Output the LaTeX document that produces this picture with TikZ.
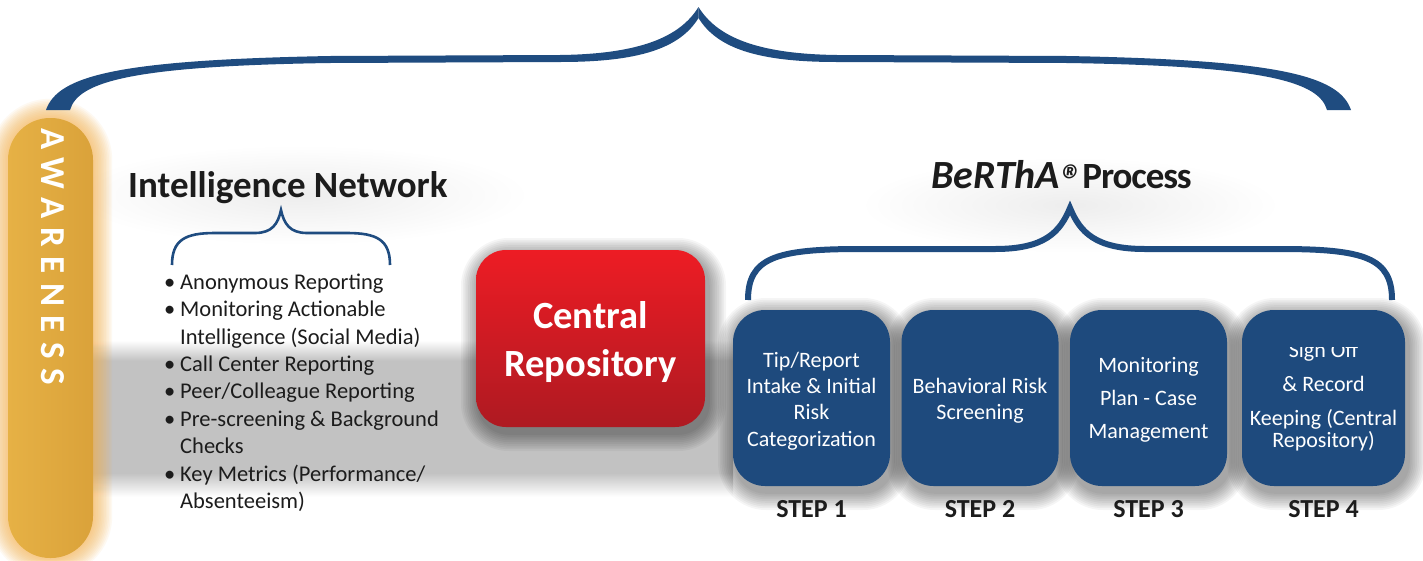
\documentclass[tikz,border=0pt]{standalone}
\usepackage{fontspec}
\setmainfont{Carlito}
\usetikzlibrary{positioning}

\definecolor{braceblue}{HTML}{1F4C80}
\definecolor{stepblue}{HTML}{1E4A7D}
\definecolor{repored}{HTML}{ED1C24}
\definecolor{repomid}{HTML}{DC1B24}
\definecolor{repodark}{HTML}{AE1A22}
\definecolor{pillgold}{HTML}{E6B145}
\definecolor{pilldark}{HTML}{DAA23A}
\definecolor{glow}{HTML}{F7AE45}
\definecolor{inkgray}{HTML}{1C1C1C}

% tikz maps the path box onto 25bp..75bp of a shading
\pgfdeclareverticalshading{greyband}{100bp}{color(0bp)=(white); color(26bp)=(white); color(33bp)=(black!24); color(66bp)=(black!24); color(72bp)=(white); color(100bp)=(white)}

% bullet and hanging indent for the list
\newcommand{\bul}{\makebox[16pt][l]{•}}
\newcommand{\bulpad}{\hspace*{16pt}}

% soft shadow behind a rounded box: x1 y1 x2 y2
\newcommand{\softshadow}[4]{%
  \foreach \s in {1,...,10}{%
    \pgfmathsetmacro\rr{30+1.8*\s}%
    \fill[black, opacity=0.04, rounded corners=\rr pt]
      ({#1-1.8*\s+3},{#2-1.8*\s+6}) rectangle ({#3+1.8*\s+3},{#4+1.8*\s+6});
  }}

\begin{document}
\begin{tikzpicture}[x=1pt, y=-1pt]
\tikzstyle{every node}+=[inner sep=0pt]
\tikzstyle{stepbox}=[fill=stepblue, rounded corners=32pt, minimum width=157pt, minimum height=176pt]
\tikzstyle{steptext}=[text=white, align=center]
\tikzstyle{steplabel}=[font=\bfseries\fontsize{26}{26}\selectfont, text=inkgray]
\tikzstyle{headline}=[font=\bfseries\fontsize{37}{37}\selectfont, text=inkgray]
\tikzstyle{bracket}=[draw=braceblue, line join=miter]

\fill[white] (0,0) rectangle (1423,560);
\useasboundingbox (0,0) rectangle (1423,560);

% background haze and grey band
\shade[inner color=black!7, outer color=white] (300,195) ellipse [x radius=230pt, y radius=50pt];
\shade[inner color=black!7, outer color=white] (1070,205) ellipse [x radius=210pt, y radius=48pt];
\shade[shading=greyband] (93,330) rectangle (733,500);

% awareness pill
\foreach \s in {1,...,12}{
  \pgfmathsetmacro\rr{42+1.6*\s}
  \fill[glow, opacity=0.07, rounded corners=\rr pt] ({8-1.6*\s},{118-1.6*\s}) rectangle ({93+1.6*\s},{558+1.6*\s});
}
\node[left color=pillgold, right color=pilldark, rounded corners=42pt, minimum width=85pt, minimum height=440pt] (aware) at (50.5,338) {};
\node[rotate=-90, anchor=west, text=white, font=\bfseries\fontsize{35}{35}\selectfont\addfontfeatures{LetterSpace=27}] (awaretext) at (53,128) {AWARENESS};

% big bracket over everything
\foreach \m in {1,-1}
  \fill[braceblue, shift={(698.5,0)}, xscale=\m] (-652.5,110) .. controls (-640.5,75) and (-578.5,60) .. (-368.5,56) -- (-138.5,55) .. controls (-58.5,54) and (-18.5,37) .. (0,7) -- (0,18) .. controls (-18.5,48) and (-58.5,62) .. (-138.5,62) -- (-368.5,63) .. controls (-568.5,66) and (-620.5,82) .. (-628.5,110) -- cycle;

% intelligence network
\node[headline, anchor=base west] (intel) at (128,197) {Intelligence Network};
\draw[bracket, line width=2.6pt] (172,265) .. controls (172,240) and (185,233) .. (215,233) -- (255,233) .. controls (272,233) and (278,224) .. (281,210) .. controls (284,224) and (290,233) .. (307,233) -- (347,233) .. controls (377,233) and (390,240) .. (390,265);
\node[anchor=north west, align=left, text=inkgray, font=\fontsize{22.5}{27.4}\selectfont] (items) at (164,273.5) {%
\bul Anonymous Reporting\\
\bul Monitoring Actionable\\
\bulpad Intelligence (Social Media)\\
\bul Call Center Reporting\\
\bul Peer/Colleague Reporting\\
\bul Pre-screening \& Background\\
\bulpad Checks\\
\bul Key Metrics (Performance/\\
\bulpad Absenteeism)};

% central repository
\softshadow{476}{250}{705}{427}
\node[top color=repored, middle color=repomid, bottom color=repodark, rounded corners=30pt, minimum width=229pt, minimum height=177pt] (repo) at (590.5,338.5) {};
\node[text=white, align=center, font=\bfseries\fontsize{38.5}{48}\selectfont] (repotext) at ([yshift=-4pt]repo.center) {Central\\Repository};

% bertha process
\node[headline, anchor=base west] (bertha) at (931,188) {{\fontsize{40}{40}\selectfont\textit{BeRThA}}\raisebox{-7pt}{\fontsize{44}{44}\selectfont\textit{\textregistered}}{\addfontfeatures{LetterSpace=-3}Process}};
\draw[bracket, line width=6pt] (748,300) .. controls (748,258) and (775,249) .. (860,249) -- (995,249) .. controls (1045,249) and (1060,232) .. (1070,208) .. controls (1080,232) and (1095,249) .. (1145,249) -- (1280,249) .. controls (1365,249) and (1392,258) .. (1392,300);

% steps
\softshadow{733}{310}{890}{486}
\softshadow{902}{310}{1058}{486}
\softshadow{1070}{310}{1227}{486}
\softshadow{1242}{310}{1405}{486}
\node[stepbox] (s1) at (811.5,398) {};
\node[stepbox] (s2) at (980,398) {};
\node[stepbox] (s3) at (1148.5,398) {};
\node[stepbox, minimum width=163pt] (s4) at (1323.5,398) {};

\node[steptext, font=\fontsize{22}{26.3}\selectfont] (t1) at ([yshift=-3pt]s1.center) {Tip/Report\\Intake \& Initial\\Risk\\Categorization};
\node[steptext, font=\fontsize{22}{26}\selectfont] (t2) at ([yshift=-3pt]s2.center) {Behavioral Risk\\Screening};
\node[steptext, font=\fontsize{22}{33}\selectfont] (t3) at ([yshift=-2pt]s3.center) {Monitoring\\Plan - Case\\Management};
\begin{scope}
\clip (1242,347) rectangle (1405,486);
\node[steptext, font=\fontsize{22}{34}\selectfont] (t4) at ([yshift=1pt]s4.center) {Sign Off\\\& Record\\Keeping (Central\\[-12pt]Repository)};
\end{scope}

\node[steplabel, below=14pt of s1] (l1) {STEP 1};
\node[steplabel, below=14pt of s2] (l2) {STEP 2};
\node[steplabel, below=14pt of s3] (l3) {STEP 3};
\node[steplabel, below=14pt of s4] (l4) {STEP 4};
\end{tikzpicture}
\end{document}
